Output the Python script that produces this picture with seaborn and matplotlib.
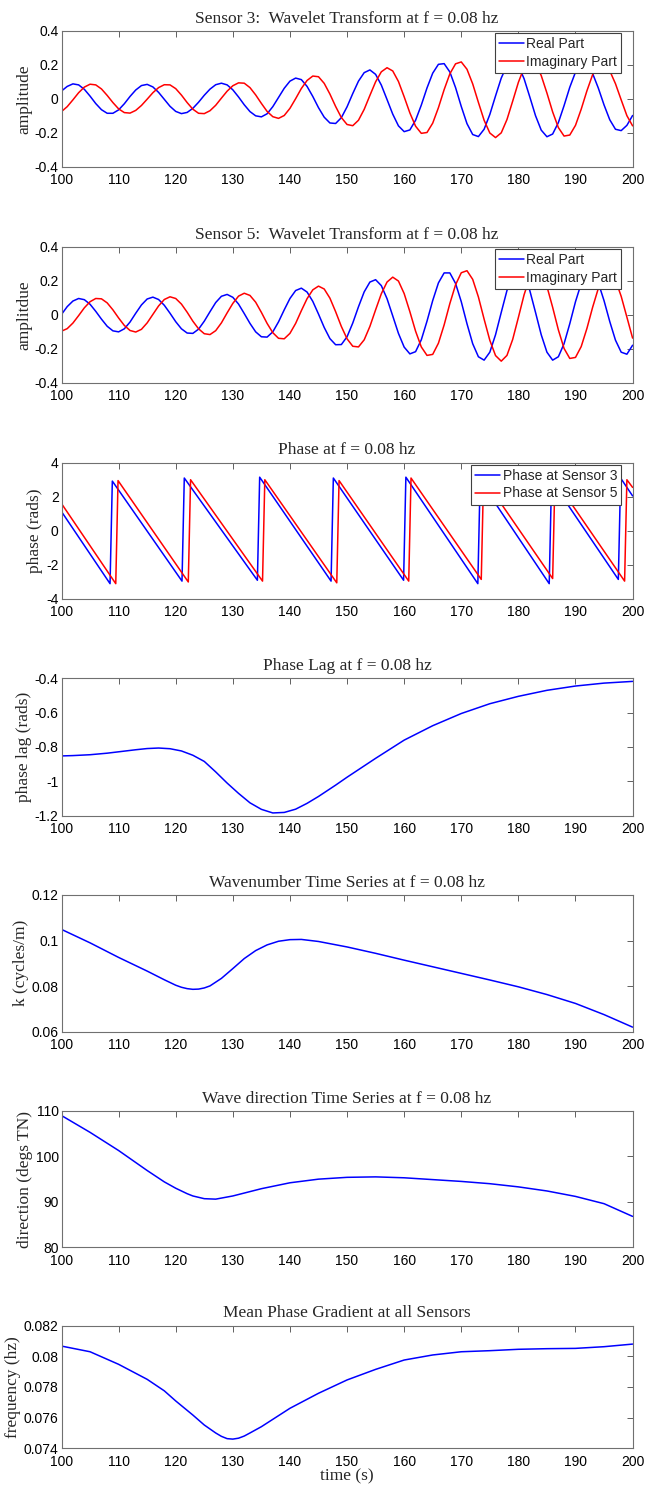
import matplotlib
matplotlib.use("Agg")
import matplotlib.pyplot as plt
import pandas as pd
import seaborn as sns

# ---------------- data ----------------
time_s = list(range(100, 201))

s3_real = [0.047, 0.074, 0.089, 0.083, 0.057, 0.017, -0.027, -0.063, -0.084, -0.084,
           -0.064, -0.028, 0.015, 0.053, 0.079, 0.086, 0.071, 0.039, -0.002, -0.043,
           -0.073, -0.086, -0.079, -0.055, -0.019, 0.022, 0.058, 0.084, 0.093, 0.083,
           0.054, 0.012, -0.034, -0.074, -0.099, -0.105, -0.087, -0.045, 0.009, 0.063,
           0.105, 0.123, 0.114, 0.074, 0.015, -0.051, -0.107, -0.141, -0.144, -0.110,
           -0.046, 0.032, 0.105, 0.155, 0.171, 0.145, 0.082, -0.003, -0.089, -0.158,
           -0.192, -0.182, -0.125, -0.036, 0.065, 0.152, 0.204, 0.208, 0.159, 0.067,
           -0.044, -0.145, -0.209, -0.221, -0.178, -0.091, 0.018, 0.123, 0.198, 0.225,
           0.197, 0.119, 0.012, -0.098, -0.183, -0.222, -0.206, -0.139, -0.039, 0.069,
           0.158, 0.206, 0.201, 0.150, 0.064, -0.035, -0.122, -0.178, -0.186, -0.155,
           -0.097]
s3_imag = [-0.074, -0.045, -0.005, 0.037, 0.070, 0.087, 0.083, 0.059, 0.021, -0.021,
           -0.058, -0.080, -0.083, -0.067, -0.038, -0.001, 0.037, 0.067, 0.084, 0.083,
           0.061, 0.023, -0.021, -0.060, -0.084, -0.086, -0.069, -0.037, 0.005, 0.046,
           0.078, 0.095, 0.093, 0.067, 0.024, -0.026, -0.073, -0.104, -0.114, -0.097,
           -0.055, 0.002, 0.062, 0.109, 0.135, 0.131, 0.092, 0.029, -0.044, -0.109,
           -0.150, -0.157, -0.125, -0.061, 0.021, 0.101, 0.160, 0.184, 0.165, 0.103,
           0.013, -0.082, -0.160, -0.202, -0.197, -0.142, -0.051, 0.055, 0.148, 0.207,
           0.218, 0.175, 0.089, -0.020, -0.125, -0.200, -0.227, -0.199, -0.121, -0.013,
           0.098, 0.185, 0.224, 0.207, 0.138, 0.035, -0.076, -0.168, -0.218, -0.212,
           -0.155, -0.060, 0.048, 0.143, 0.200, 0.206, 0.166, 0.090, -0.005, -0.098,
           -0.158]
s5_real = [0.002, 0.048, 0.081, 0.096, 0.089, 0.062, 0.020, -0.026, -0.068, -0.095,
           -0.101, -0.083, -0.043, 0.009, 0.058, 0.093, 0.104, 0.090, 0.056, 0.009,
           -0.041, -0.083, -0.108, -0.110, -0.085, -0.038, 0.018, 0.072, 0.109, 0.120,
           0.103, 0.063, 0.007, -0.051, -0.101, -0.130, -0.132, -0.101, -0.042, 0.029,
           0.096, 0.143, 0.157, 0.134, 0.079, 0.004, -0.075, -0.141, -0.177, -0.176,
           -0.130, -0.049, 0.047, 0.135, 0.193, 0.207, 0.172, 0.095, -0.007, -0.110,
           -0.191, -0.231, -0.218, -0.148, -0.038, 0.084, 0.188, 0.247, 0.247, 0.185,
           0.077, -0.053, -0.171, -0.248, -0.268, -0.221, -0.118, 0.014, 0.143, 0.236,
           0.270, 0.236, 0.143, 0.014, -0.118, -0.221, -0.268, -0.248, -0.171, -0.053,
           0.077, 0.185, 0.247, 0.247, 0.188, 0.083, -0.040, -0.150, -0.221, -0.233,
           -0.180]
s5_imag = [-0.097, -0.082, -0.049, -0.005, 0.041, 0.077, 0.096, 0.094, 0.070, 0.029,
           -0.019, -0.063, -0.093, -0.102, -0.086, -0.048, 0.002, 0.052, 0.090, 0.106,
           0.096, 0.063, 0.015, -0.038, -0.083, -0.112, -0.117, -0.094, -0.048, 0.011,
           0.067, 0.110, 0.127, 0.114, 0.074, 0.014, -0.051, -0.106, -0.139, -0.142,
           -0.110, -0.051, 0.024, 0.095, 0.147, 0.169, 0.152, 0.098, 0.018, -0.069,
           -0.142, -0.186, -0.190, -0.148, -0.069, 0.029, 0.124, 0.193, 0.222, 0.199,
           0.125, 0.018, -0.097, -0.190, -0.240, -0.234, -0.168, -0.060, 0.066, 0.177,
           0.248, 0.260, 0.209, 0.105, -0.026, -0.151, -0.241, -0.274, -0.240, -0.146,
           -0.016, 0.118, 0.221, 0.269, 0.248, 0.167, 0.044, -0.089, -0.199, -0.258,
           -0.252, -0.188, -0.081, 0.044, 0.156, 0.231, 0.249, 0.205, 0.109, -0.014,
           -0.138]

s3_phase_t = [100, 108.5, 108.9, 121.1, 121.5, 134.3, 134.7, 147.2, 147.6, 159.9,
              160.3, 172.9, 173.3, 185.4, 185.8, 197.5, 197.9, 200]
s3_phase = [1.13, -3.10, 2.92, -2.95, 3.10, -2.90, 3.15, -2.95, 3.10, -2.90,
            3.15, -3.10, 2.95, -3.10, 2.95, -2.85, 3.10, 2.05]
s5_phase_t = [100, 109.5, 109.9, 122.2, 122.6, 135.2, 135.6, 148.2, 148.6, 160.8,
              161.2, 173.5, 173.9, 186.0, 186.4, 198.6, 199.0, 200]
s5_phase = [1.60, -3.10, 2.95, -3.00, 3.00, -2.95, 3.00, -3.05, 2.95, -2.95,
            3.10, -2.85, 3.10, -2.80, 3.00, -2.95, 3.00, 2.55]

lag_t = [100, 102, 105, 108, 110, 113, 115, 117, 119, 121, 123, 125, 127, 129, 131,
         133, 135, 137, 139, 141, 143, 145, 148, 150, 155, 160, 165, 170, 175, 180,
         185, 190, 195, 200]
lag_rads = [-0.852, -0.850, -0.845, -0.836, -0.828, -0.816, -0.809, -0.806, -0.810,
            -0.823, -0.848, -0.884, -0.945, -1.010, -1.070, -1.125, -1.163, -1.184,
            -1.181, -1.162, -1.128, -1.088, -1.022, -0.976, -0.866, -0.760, -0.676,
            -0.605, -0.548, -0.505, -0.470, -0.445, -0.428, -0.418]

k_t = [100, 105, 110, 115, 118, 120, 121, 122, 123, 124, 125, 126, 128, 130, 132, 134,
       136, 138, 140, 142, 145, 150, 155, 160, 165, 170, 175, 180, 185, 190, 195, 200]
k_vals = [0.1049, 0.0990, 0.0926, 0.0866, 0.0828, 0.0804, 0.0795, 0.0789, 0.0786,
          0.0787, 0.0792, 0.0801, 0.0834, 0.0877, 0.0921, 0.0956, 0.0981, 0.0997,
          0.1004, 0.1005, 0.0996, 0.0972, 0.0944, 0.0914, 0.0885, 0.0856, 0.0827,
          0.0797, 0.0763, 0.0724, 0.0675, 0.0620]

dir_t = [100, 105, 110, 115, 118, 120, 122, 123, 125, 127, 130, 135, 140, 145, 150,
         155, 160, 165, 170, 175, 180, 185, 190, 195, 200]
dir_deg = [109.0, 105.3, 101.3, 96.9, 94.4, 93.0, 91.8, 91.3, 90.7, 90.6, 91.3, 92.9,
           94.2, 95.0, 95.4, 95.5, 95.3, 94.9, 94.5, 94.0, 93.3, 92.4, 91.2, 89.6, 86.8]

freq_t = [100, 105, 110, 115, 118, 120, 123, 125, 127, 128, 129, 130, 131, 132, 133,
          135, 140, 145, 150, 155, 160, 165, 170, 175, 180, 185, 190, 195, 200]
freq_hz = [0.08067, 0.08030, 0.07948, 0.07850, 0.07775, 0.07709, 0.07617, 0.07552,
           0.07500, 0.07478, 0.07463, 0.07460, 0.07466, 0.07480, 0.07500, 0.07541,
           0.07661, 0.07759, 0.07846, 0.07915, 0.07976, 0.08009, 0.08030, 0.08037,
           0.08046, 0.08050, 0.08052, 0.08063, 0.08080]

x_ticks = list(range(100, 201, 10))
amp_ticks = [-0.4, -0.2, 0, 0.2, 0.4]
phase_ticks = [-4, -2, 0, 2, 4]
lag_ticks = [-1.2, -1, -0.8, -0.6, -0.4]
k_ticks = [0.06, 0.08, 0.1, 0.12]
dir_ticks = [80, 90, 100, 110]
freq_ticks = [0.074, 0.076, 0.078, 0.08, 0.082]

titles = ["Sensor 3:  Wavelet Transform at f = 0.08 hz",
          "Sensor 5:  Wavelet Transform at f = 0.08 hz",
          "Phase at f = 0.08 hz",
          "Phase Lag at f = 0.08 hz",
          "Wavenumber Time Series at f = 0.08 hz",
          "Wave direction Time Series at f = 0.08 hz",
          "Mean Phase Gradient at all Sensors"]
ylabels = ["amplitude", "amplitdue", "phase (rads)", "phase lag (rads)",
           "k (cycles/m)", "direction (degs TN)", "frequency (hz)"]
legend_wave = ["Real Part", "Imaginary Part"]
legend_phase = ["Phase at Sensor 3", "Phase at Sensor 5"]
x_label = "time (s)"

for arr in (s3_real, s3_imag, s5_real, s5_imag):
    assert len(arr) == len(time_s), len(arr)

# ---------------- styling ----------------
sns.set_style("white")
plt.rcParams["font.family"] = ["Liberation Sans", "DejaVu Sans"]
plt.rcParams["axes.unicode_minus"] = False

BLUE = "#0000ff"
RED = "#ff0000"
SERIF = ["Liberation Serif", "DejaVu Serif"]
W, H = 648, 1487
fig = plt.figure(figsize=(W / 100, H / 100), dpi=100)

left_px, right_px = 61.5, 632.6
panels_px = [(31, 167), (247, 382.5), (462.7, 599), (678.3, 815.7),
             (895, 1031.7), (1111, 1247.3), (1325.7, 1448.3)]
axes = []
for top, bot in panels_px:
    ax = fig.add_axes([left_px / W, 1 - bot / H, (right_px - left_px) / W, (bot - top) / H])
    axes.append(ax)


def style(ax, yticks, title, ylabel):
    ax.set_xlim(100, 200)
    ax.set_ylim(yticks[0], yticks[-1])
    ax.set_xticks(x_ticks)
    ax.set_xticklabels([f"{v:g}" for v in x_ticks])
    ax.set_yticks(yticks)
    ax.set_yticklabels([f"{v:g}" for v in yticks])
    ax.tick_params(direction="in", top=True, right=True, length=4, width=0.7,
                   color="#606060", labelsize=10, labelcolor="black")
    ax.tick_params(axis="x", pad=4.5)
    ax.tick_params(axis="y", pad=2)
    for s in ax.spines.values():
        s.set_color("#707070")
        s.set_linewidth(0.8)
    ax.set_title(title, family=SERIF, fontsize=12.5, pad=6)
    ax.set_ylabel(ylabel, family=SERIF, fontsize=12.5, labelpad=2)
    ax.set_xlabel("")


def add_legend(ax, labels):
    handles = ax.get_lines()[:2]
    leg = ax.legend(handles, labels, loc="upper right", bbox_to_anchor=(0.98, 0.985),
                    borderaxespad=0, frameon=True, fancybox=False, framealpha=1,
                    edgecolor="#404040", fontsize=10, handlelength=1.8,
                    handletextpad=0.15, borderpad=0.3, labelspacing=0.25)
    leg.get_frame().set_linewidth(0.8)
    leg.set_zorder(10)


def line(ax, x, y, color):
    df = pd.DataFrame({"x": x, "y": y})
    sns.lineplot(data=df, x="x", y="y", ax=ax, color=color, linewidth=1.1,
                 estimator=None, sort=False)


# Panel 1 & 2: wavelet transforms
line(axes[0], time_s, s3_real, BLUE)
line(axes[0], time_s, s3_imag, RED)
style(axes[0], amp_ticks, titles[0], ylabels[0])
add_legend(axes[0], legend_wave)

line(axes[1], time_s, s5_real, BLUE)
line(axes[1], time_s, s5_imag, RED)
style(axes[1], amp_ticks, titles[1], ylabels[1])
add_legend(axes[1], legend_wave)

# Panel 3: phases
line(axes[2], s3_phase_t, s3_phase, BLUE)
line(axes[2], s5_phase_t, s5_phase, RED)
style(axes[2], phase_ticks, titles[2], ylabels[2])
add_legend(axes[2], legend_phase)

# Panel 4-7
line(axes[3], lag_t, lag_rads, BLUE)
style(axes[3], lag_ticks, titles[3], ylabels[3])

line(axes[4], k_t, k_vals, BLUE)
style(axes[4], k_ticks, titles[4], ylabels[4])

line(axes[5], dir_t, dir_deg, BLUE)
style(axes[5], dir_ticks, titles[5], ylabels[5])

line(axes[6], freq_t, freq_hz, BLUE)
style(axes[6], freq_ticks, titles[6], ylabels[6])
axes[6].set_xlabel(x_label, family=SERIF, fontsize=12.5, labelpad=0)

for ax in axes[3:]:
    if ax.get_legend() is not None:
        ax.get_legend().remove()

fig.savefig("out.png", dpi=100, facecolor="white")
